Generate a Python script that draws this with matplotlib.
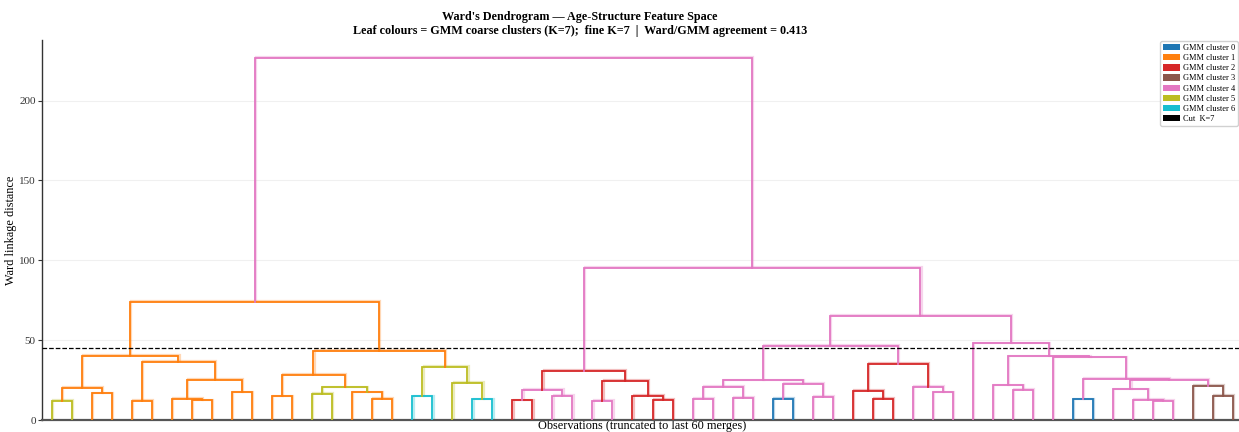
import numpy as np
import matplotlib.pyplot as plt
from matplotlib.patches import Patch

plt.rcParams['font.family'] = ['Liberation Serif', 'DejaVu Serif']

# GMM cluster colours (tab10 order)
cluster_names = ['GMM cluster 0', 'GMM cluster 1', 'GMM cluster 2', 'GMM cluster 3',
                 'GMM cluster 4', 'GMM cluster 5', 'GMM cluster 6']
cluster_colors = ['#1f77b4', '#ff7f0e', '#d62728', '#8c564b', '#e377c2', '#bcbd22', '#17becf']

n_leaves = 60
cut_height = 45.0

# merges: ids 0-59 are leaves, merge k gets id 60+k
merge_left = [0, 2, 60, 4, 7, 6, 9, 65, 63, 62,
              11, 13, 16, 15, 71, 70, 18, 21, 20, 76,
              75, 69, 23, 25, 82, 27, 30, 29, 85, 84,
              32, 34, 90, 36, 38, 93, 92, 41, 40, 44,
              43, 98, 96, 48, 47, 51, 55, 54, 53, 58,
              57, 108, 105, 50, 104, 46, 102, 89, 81]
merge_right = [1, 3, 61, 5, 8, 64, 10, 66, 67, 68,
               12, 14, 17, 72, 73, 74, 19, 22, 77, 78,
               79, 80, 24, 26, 83, 28, 31, 86, 87, 88,
               33, 35, 91, 37, 39, 94, 95, 42, 97, 45,
               99, 100, 101, 49, 103, 52, 56, 106, 107, 59,
               109, 110, 111, 112, 113, 114, 115, 116, 117]
merge_height = [11.9, 16.7, 20.0, 11.9, 12.3, 13.1, 17.3, 25.3, 36.5, 40.1,
                14.8, 16.1, 13.3, 17.3, 20.4, 28.4, 14.8, 12.9, 23.2, 33.0,
                43.2, 73.7, 12.3, 15.0, 19.0, 11.9, 12.6, 15.2, 24.4, 30.7,
                13.4, 13.6, 20.7, 13.1, 14.4, 22.7, 24.8, 13.4, 18.2, 17.3,
                20.9, 35.1, 46.5, 18.8, 21.7, 12.9, 12.1, 12.5, 19.2, 15.2,
                21.5, 25.0, 25.7, 39.2, 39.8, 48.0, 65.1, 95.1, 226.6]
# GMM cluster index used for each link
merge_cluster = [5, 1, 1, 1, 1, 1, 1, 1, 1, 1,
                 1, 5, 1, 1, 5, 1, 6, 6, 5, 5,
                 1, 1, 2, 4, 4, 4, 2, 2, 2, 2,
                 4, 4, 4, 0, 4, 4, 4, 2, 2, 4,
                 4, 2, 4, 4, 4, 0, 4, 4, 4, 3,
                 3, 4, 4, 4, 4, 4, 4, 4, 4]

# positions, scipy style: leaves at 5, 15, 25, ...
xpos = [5 + 10 * i for i in range(n_leaves)]
ypos = [0.0] * n_leaves
for l, r, h in zip(merge_left, merge_right, merge_height):
    xpos.append((xpos[l] + xpos[r]) / 2)
    ypos.append(h)

fig = plt.figure(figsize=(12.39, 4.32), dpi=100)
ax = fig.add_axes([42 / 1239, 12 / 432, 1201 / 1239, 380 / 432])

for l, r, h, c in zip(merge_left, merge_right, merge_height, merge_cluster):
    xs = [xpos[l], xpos[l], xpos[r], xpos[r]]
    ys = [ypos[l], h, h, ypos[r]]
    col = cluster_colors[c]
    ax.plot([x + 0.6 for x in xs], [y + 0.5 for y in ys], color=col, lw=1.6, alpha=0.3,
            solid_joinstyle='miter', zorder=2)
    ax.plot(xs, ys, color=col, lw=1.3, solid_joinstyle='miter', zorder=3)

ax.axhline(cut_height, color='black', ls='--', lw=0.9, zorder=4)

ax.set_xlim(0, 10 * n_leaves)
ax.set_ylim(0, max(merge_height) * 1.05)
ax.set_xticks([])
ax.set_yticks([0, 50, 100, 150, 200])
ax.tick_params(axis='y', labelsize=8, length=3, width=0.8, pad=1.5, colors='#333333')
ax.grid(axis='y', color='#e6e6e6', lw=0.8, alpha=0.6)
ax.set_axisbelow(True)
for s in ['top', 'right']:
    ax.spines[s].set_visible(False)
ax.spines['left'].set_color('#333333')
ax.spines['left'].set_linewidth(1.0)
ax.spines['bottom'].set_color('#555555')
ax.spines['bottom'].set_linewidth(1.6)

ax.set_xlabel('Observations (truncated to last 60 merges)', fontsize=8.8, labelpad=0)
ax.set_ylabel('Ward linkage distance', fontsize=8.8)
ax.yaxis.set_label_coords(-0.021, 0.5)
fig.text(580 / 1239, 1 - 17 / 432, "Ward's Dendrogram \u2014 Age-Structure Feature Space",
         fontsize=8.75, fontweight='bold', ha='center', va='center')
fig.text(580 / 1239, 1 - 31 / 432,
         "Leaf colours = GMM coarse clusters (K=7);  fine K=7  |  Ward/GMM agreement = 0.413",
         fontsize=8.75, fontweight='bold', ha='center', va='center')

handles = [Patch(facecolor=c, label=n) for c, n in zip(cluster_colors, cluster_names)]
handles.append(Patch(facecolor='black', label='Cut  K=7'))
fig.legend(handles=handles, loc='upper right', bbox_to_anchor=(1238 / 1239, 1 - 41 / 432),
           fontsize=6, labelspacing=0.25, handlelength=2.0, handleheight=0.8,
           handletextpad=0.4, borderpad=0.35, borderaxespad=0, framealpha=0.9,
           edgecolor='#cccccc')

fig.savefig('out.png', dpi=100)
